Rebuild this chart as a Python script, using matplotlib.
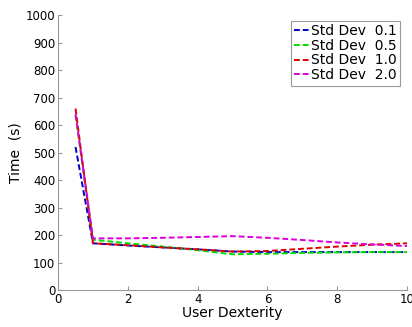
import matplotlib
matplotlib.use('Agg')
import matplotlib.pyplot as plt

matplotlib.rcParams['font.family'] = 'DejaVu Sans'

dexterity = [0.5, 1, 2, 3, 4, 5, 6, 7, 8, 9, 10]
std_01 = [520, 170, 162, 155, 148, 140, 138, 138, 138, 138, 138]
std_05 = [635, 183, 170, 158, 145, 130, 132, 135, 137, 138, 138]
std_10 = [660, 170, 163, 155, 148, 140, 142, 150, 158, 165, 170]
std_20 = [640, 188, 188, 190, 193, 196, 190, 182, 173, 166, 160]

labels = ['Std Dev  0.1', 'Std Dev  0.5', 'Std Dev  1.0', 'Std Dev  2.0']
colors = ['#0000cc', '#00dd00', '#dd0000', '#dd00dd']

fig = plt.figure(figsize=(4.12, 3.27), dpi=100)
ax = fig.add_axes([0.141, 0.113, 0.847, 0.841])

for ys, lab, c in zip([std_01, std_05, std_10, std_20], labels, colors):
    ax.plot(dexterity, ys, linestyle='--', color=c, linewidth=1.4,
            dashes=(3, 1.5), label=lab)

ax.set_xlim(0, 10)
ax.set_ylim(0, 1000)
ax.set_xticks([0, 2, 4, 6, 8, 10])
ax.set_yticks(range(0, 1001, 100))
for s in ['top', 'right']:
    ax.spines[s].set_visible(False)
for s in ['left', 'bottom']:
    ax.spines[s].set_color('#999999')
ax.tick_params(direction='in', length=3, color='#999999', labelsize=8.5,
               pad=2)
ax.set_xlabel('User Dexterity', fontsize=10, labelpad=0)
ax.set_ylabel('Time  (s)', fontsize=10, labelpad=2)

leg = ax.legend(loc='upper right', bbox_to_anchor=(1.0, 1.005),
                fontsize=10, handlelength=1.1, handletextpad=0.1,
                labelspacing=0.05, borderpad=0.25, fancybox=False,
                framealpha=1)
leg.get_frame().set_edgecolor('#999999')
leg.get_frame().set_linewidth(0.8)

fig.savefig('out.png', dpi=100)
